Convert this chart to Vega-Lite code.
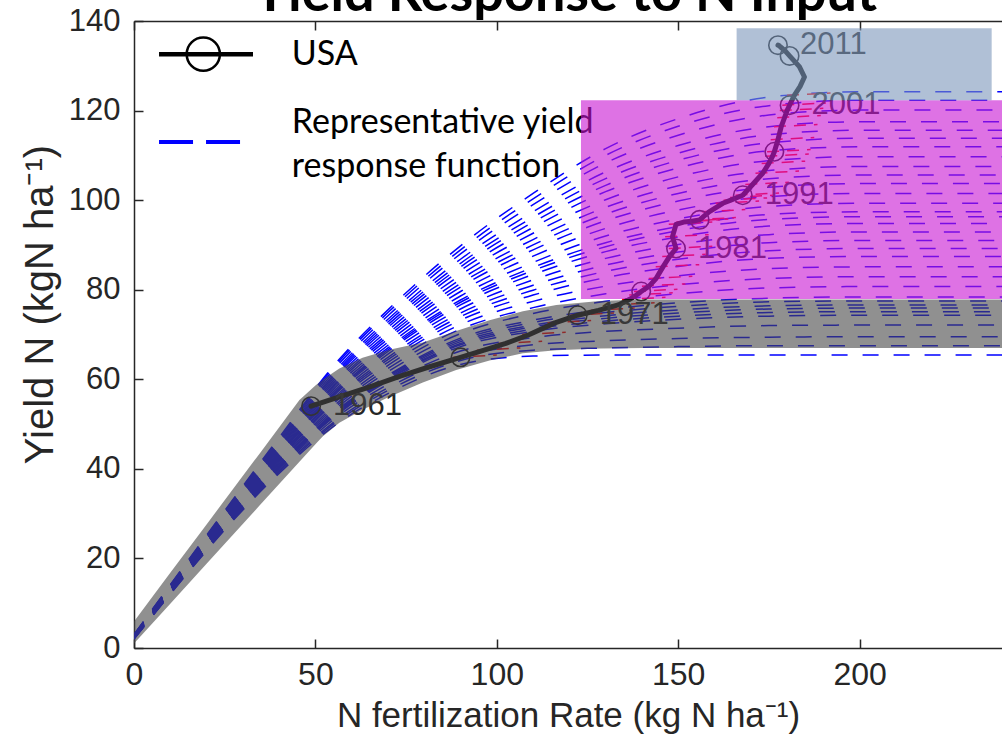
{
  "$schema": "https://vega.github.io/schema/vega-lite/v6.json",
  "width": 868,
  "height": 627,
  "autosize": "none",
  "padding": {"left": 134, "top": 21, "right": 0, "bottom": 86},
  "background": "white",
  "config": {"view": {"stroke": null}},
  "datasets": {
    "curves": [
      {"c": 1, "x": [0,40,55,70,90,110,130,150,175,200,245], "y": [2.0,39.0,49.5,56.8,63.3,65.2,65.4,65.4,65.4,65.4,65.4]},
      {"c": 2, "x": [0,40,55,70,90,110,130,150,175,200,245], "y": [2.0,39.3,50.0,57.5,64.2,66.5,67.0,67.3,67.5,67.5,67.5]},
      {"c": 3, "x": [0,40,55,70,90,110,130,150,175,200,245], "y": [2.1,39.6,50.4,58.1,65.1,67.7,68.6,69.1,69.4,69.5,69.5]},
      {"c": 4, "x": [0,40,55,70,90,110,130,150,175,200,245], "y": [2.1,39.9,51.0,58.9,66.3,69.3,70.7,71.4,72.0,72.1,72.1]},
      {"c": 5, "x": [0,40,55,70,90,110,130,150,175,200,245], "y": [2.2,40.2,51.5,59.6,67.3,70.7,72.4,73.4,74.1,74.3,74.3]},
      {"c": 6, "x": [0,40,55,70,90,110,130,150,175,200,245], "y": [2.2,40.3,51.7,59.9,67.7,71.2,73.0,74.1,74.9,75.1,75.1]},
      {"c": 7, "x": [0,40,55,70,90,110,130,150,175,200,245], "y": [2.2,40.4,51.9,60.1,68.0,71.7,73.6,74.8,75.7,75.9,75.9]},
      {"c": 8, "x": [0,40,55,70,90,110,130,150,175,200,245], "y": [2.2,40.5,52.1,60.4,68.4,72.1,74.2,75.5,76.4,76.6,76.6]},
      {"c": 9, "x": [0,40,55,70,90,110,130,150,175,200,245], "y": [2.2,40.6,52.3,60.7,68.8,72.7,74.9,76.3,77.3,77.5,77.5]},
      {"c": 10, "x": [0,40,55,70,90,110,130,150,175,200,245], "y": [2.2,40.8,52.5,60.9,69.2,73.2,75.6,77.1,78.1,78.4,78.4]},
      {"c": 11, "x": [0,40,55,70,90,110,130,150,175,200,245], "y": [2.3,41.1,53.0,61.7,70.2,74.7,77.4,79.1,80.4,80.7,80.7]},
      {"c": 12, "x": [0,40,55,70,90,110,130,150,175,200,245], "y": [2.3,41.4,53.5,62.4,71.2,76.0,79.1,81.1,82.5,82.9,82.9]},
      {"c": 13, "x": [0,40,55,70,90,110,130,150,175,200,245], "y": [2.3,41.7,54.0,63.1,72.2,77.4,80.8,83.1,84.7,85.1,85.1]},
      {"c": 14, "x": [0,40,55,70,90,110,130,150,175,200,245], "y": [2.4,42.0,54.6,63.8,73.2,78.8,82.7,85.2,87.0,87.4,87.4]},
      {"c": 15, "x": [0,40,55,70,90,110,130,150,175,200,245], "y": [2.4,42.2,55.0,64.4,74.0,79.9,84.1,86.8,88.7,89.2,89.2]},
      {"c": 16, "x": [0,40,55,70,90,110,130,150,175,200,245], "y": [2.4,42.5,55.4,64.9,74.8,81.0,85.5,88.4,90.5,91.0,91.0]},
      {"c": 17, "x": [0,40,55,70,90,110,130,150,175,200,245], "y": [2.5,42.7,55.8,65.6,75.7,82.2,87.0,90.1,92.3,92.9,92.9]},
      {"c": 18, "x": [0,40,55,70,90,110,130,150,175,200,245], "y": [2.5,43.0,56.3,66.2,76.6,83.4,88.5,91.8,94.2,94.8,94.8]},
      {"c": 19, "x": [0,40,55,70,90,110,130,150,175,200,245], "y": [2.5,43.2,56.6,66.6,77.2,84.3,89.6,93.2,95.7,96.3,96.3]},
      {"c": 20, "x": [0,40,55,70,90,110,130,150,175,200,245], "y": [2.5,43.4,56.9,67.0,77.7,85.0,90.5,94.1,96.8,97.4,97.4]},
      {"c": 21, "x": [0,40,55,70,90,110,130,150,175,200,245], "y": [2.6,43.6,57.3,67.6,78.6,86.1,92.0,95.8,98.6,99.3,99.3]},
      {"c": 22, "x": [0,40,55,70,90,110,130,150,175,200,245], "y": [2.6,43.9,57.8,68.3,79.6,87.5,93.7,97.8,100.8,101.5,101.5]},
      {"c": 23, "x": [0,40,55,70,90,110,130,150,175,200,245], "y": [2.7,44.2,58.3,69.0,80.6,88.9,95.4,99.8,102.9,103.7,103.7]},
      {"c": 24, "x": [0,40,55,70,90,110,130,150,175,200,245], "y": [2.7,44.5,58.7,69.6,81.4,90.0,96.9,101.5,104.8,105.6,105.6]},
      {"c": 25, "x": [0,40,55,70,90,110,130,150,175,200,245], "y": [2.7,44.7,59.2,70.2,82.3,91.2,98.4,103.2,106.6,107.5,107.5]},
      {"c": 26, "x": [0,40,55,70,90,110,130,150,175,200,245], "y": [2.8,45.0,59.7,70.9,83.3,92.6,100.1,105.2,108.8,109.7,109.7]},
      {"c": 27, "x": [0,40,55,70,90,110,130,150,175,200,245], "y": [2.8,45.3,60.2,71.6,84.3,93.9,101.9,107.2,111.0,111.9,111.9]},
      {"c": 28, "x": [0,40,55,70,90,110,130,150,175,200,245], "y": [2.8,45.6,60.6,72.2,85.1,95.1,103.3,108.9,112.8,113.8,113.8]},
      {"c": 29, "x": [0,40,55,70,90,110,130,150,175,200,245], "y": [2.9,45.8,61.0,72.8,85.9,96.2,104.8,110.5,114.6,115.6,115.6]},
      {"c": 30, "x": [0,40,55,70,90,110,130,150,175,200,245], "y": [2.9,46.1,61.5,73.4,86.8,97.4,106.3,112.2,116.4,117.5,117.5]},
      {"c": 31, "x": [0,40,55,70,90,110,130,150,175,200,245], "y": [2.9,46.4,62.1,74.2,88.0,99.0,108.3,114.5,119.0,120.1,120.1]},
      {"c": 32, "x": [0,40,55,70,90,110,130,150,175,200,245], "y": [3.0,46.7,62.6,74.9,88.9,100.3,110.0,116.5,121.1,122.3,122.3]},
      {"c": 33, "x": [0,40,55,70,90,110,130,150,175,200,245], "y": [3.0,47.0,63.0,75.5,89.8,101.5,111.5,118.2,123.0,124.2,124.2]}
    ],
    "traj": [
      {"yr": 1961, "x": 48.8, "y": 54.0}, {"yr": 1962, "x": 57.0, "y": 56.2}, {"yr": 1963, "x": 65.0, "y": 58.3},
      {"yr": 1964, "x": 73.0, "y": 60.6}, {"yr": 1965, "x": 81.5, "y": 62.8}, {"yr": 1966, "x": 90.0, "y": 64.9},
      {"yr": 1967, "x": 96.5, "y": 66.5}, {"yr": 1968, "x": 102.5, "y": 68.0}, {"yr": 1969, "x": 109.0, "y": 70.0},
      {"yr": 1970, "x": 116.0, "y": 72.6}, {"yr": 1971, "x": 122.3, "y": 74.3}, {"yr": 1972, "x": 128.0, "y": 75.4},
      {"yr": 1973, "x": 133.5, "y": 76.6}, {"yr": 1974, "x": 136.5, "y": 77.8}, {"yr": 1975, "x": 138.5, "y": 78.8},
      {"yr": 1976, "x": 139.8, "y": 79.6}, {"yr": 1977, "x": 142.0, "y": 80.8}, {"yr": 1978, "x": 143.9, "y": 82.5},
      {"yr": 1979, "x": 145.8, "y": 85.1}, {"yr": 1980, "x": 147.6, "y": 87.4}, {"yr": 1981, "x": 149.4, "y": 89.2},
      {"yr": 1982, "x": 148.4, "y": 91.8}, {"yr": 1983, "x": 149.4, "y": 94.6}, {"yr": 1984, "x": 151.5, "y": 95.1},
      {"yr": 1985, "x": 153.8, "y": 95.3}, {"yr": 1986, "x": 155.9, "y": 95.6}, {"yr": 1987, "x": 158.5, "y": 97.4},
      {"yr": 1988, "x": 162.3, "y": 99.3}, {"yr": 1989, "x": 164.5, "y": 100.0}, {"yr": 1990, "x": 166.3, "y": 100.6},
      {"yr": 1991, "x": 167.8, "y": 101.1}, {"yr": 1992, "x": 170.5, "y": 103.5}, {"yr": 1993, "x": 173.3, "y": 106.0},
      {"yr": 1994, "x": 175.0, "y": 108.2}, {"yr": 1995, "x": 176.0, "y": 109.8}, {"yr": 1996, "x": 176.5, "y": 110.8},
      {"yr": 1997, "x": 177.5, "y": 113.5}, {"yr": 1998, "x": 178.4, "y": 116.4}, {"yr": 1999, "x": 179.3, "y": 118.4},
      {"yr": 2000, "x": 180.0, "y": 120.0}, {"yr": 2001, "x": 180.7, "y": 121.2}, {"yr": 2002, "x": 182.0, "y": 123.4},
      {"yr": 2003, "x": 183.6, "y": 125.4}, {"yr": 2004, "x": 184.8, "y": 127.5}, {"yr": 2005, "x": 183.4, "y": 129.8},
      {"yr": 2006, "x": 180.7, "y": 132.2}, {"yr": 2007, "x": 179.6, "y": 133.2}, {"yr": 2008, "x": 178.8, "y": 133.8},
      {"yr": 2009, "x": 178.2, "y": 134.2}, {"yr": 2010, "x": 177.8, "y": 134.5}, {"yr": 2011, "x": 177.5, "y": 134.6}
    ],
    "red": [
      {"yr": 1966, "x1": 88.0, "x2": 100.0, "y1": 64.9, "y2": 65.4},
      {"yr": 1967, "x1": 94.5, "x2": 106.5, "y1": 66.5, "y2": 67.0},
      {"yr": 1968, "x1": 100.5, "x2": 112.5, "y1": 68.0, "y2": 68.5},
      {"yr": 1969, "x1": 107.0, "x2": 119.0, "y1": 70.0, "y2": 70.5},
      {"yr": 1970, "x1": 114.0, "x2": 126.0, "y1": 72.6, "y2": 73.1},
      {"yr": 1971, "x1": 120.3, "x2": 132.3, "y1": 74.3, "y2": 74.8},
      {"yr": 1972, "x1": 126.0, "x2": 138.0, "y1": 75.4, "y2": 75.9},
      {"yr": 1973, "x1": 131.5, "x2": 143.5, "y1": 76.6, "y2": 77.1},
      {"yr": 1974, "x1": 134.5, "x2": 146.5, "y1": 77.8, "y2": 78.3},
      {"yr": 1975, "x1": 136.5, "x2": 148.5, "y1": 78.8, "y2": 79.3},
      {"yr": 1976, "x1": 137.8, "x2": 149.8, "y1": 79.6, "y2": 80.1},
      {"yr": 1977, "x1": 140.0, "x2": 152.0, "y1": 80.8, "y2": 81.3},
      {"yr": 1978, "x1": 141.9, "x2": 153.9, "y1": 82.5, "y2": 83.0},
      {"yr": 1979, "x1": 143.8, "x2": 155.8, "y1": 85.1, "y2": 85.6},
      {"yr": 1980, "x1": 145.6, "x2": 157.6, "y1": 87.4, "y2": 87.9},
      {"yr": 1981, "x1": 147.4, "x2": 159.4, "y1": 89.2, "y2": 89.7},
      {"yr": 1982, "x1": 146.4, "x2": 158.4, "y1": 91.8, "y2": 92.3},
      {"yr": 1983, "x1": 147.4, "x2": 159.4, "y1": 94.6, "y2": 95.1},
      {"yr": 1984, "x1": 149.5, "x2": 161.5, "y1": 95.1, "y2": 95.6},
      {"yr": 1985, "x1": 151.8, "x2": 163.8, "y1": 95.3, "y2": 95.8},
      {"yr": 1986, "x1": 153.9, "x2": 165.9, "y1": 95.6, "y2": 96.1},
      {"yr": 1987, "x1": 156.5, "x2": 168.5, "y1": 97.4, "y2": 97.9},
      {"yr": 1988, "x1": 160.3, "x2": 172.3, "y1": 99.3, "y2": 99.8},
      {"yr": 1989, "x1": 162.5, "x2": 174.5, "y1": 100.0, "y2": 100.5},
      {"yr": 1990, "x1": 164.3, "x2": 176.3, "y1": 100.6, "y2": 101.1},
      {"yr": 1991, "x1": 165.8, "x2": 177.8, "y1": 101.1, "y2": 101.6},
      {"yr": 1992, "x1": 168.5, "x2": 180.5, "y1": 103.5, "y2": 104.0},
      {"yr": 1993, "x1": 171.3, "x2": 183.3, "y1": 106.0, "y2": 106.5},
      {"yr": 1994, "x1": 173.0, "x2": 185.0, "y1": 108.2, "y2": 108.7},
      {"yr": 1995, "x1": 174.0, "x2": 186.0, "y1": 109.8, "y2": 110.3},
      {"yr": 1996, "x1": 174.5, "x2": 186.5, "y1": 110.8, "y2": 111.3},
      {"yr": 1997, "x1": 175.5, "x2": 187.5, "y1": 113.5, "y2": 114.0},
      {"yr": 1998, "x1": 176.4, "x2": 188.4, "y1": 116.4, "y2": 116.9},
      {"yr": 1999, "x1": 177.3, "x2": 189.3, "y1": 118.4, "y2": 118.9},
      {"yr": 2000, "x1": 178.0, "x2": 190.0, "y1": 120.0, "y2": 120.5},
      {"yr": 2001, "x1": 178.7, "x2": 190.7, "y1": 121.2, "y2": 121.7},
      {"yr": 2002, "x1": 180.0, "x2": 192.0, "y1": 123.4, "y2": 123.9}
    ],
    "band": [
      {"x": 0, "lo": 1.0, "hi": 5.9}, {"x": 10, "lo": 9.9, "hi": 16.8}, {"x": 20, "lo": 18.8, "hi": 27.6},
      {"x": 34.6, "lo": 31.8, "hi": 43.4}, {"x": 45.6, "lo": 41.6, "hi": 55.4}, {"x": 50, "lo": 45.5, "hi": 58.6},
      {"x": 52, "lo": 47.2, "hi": 59.9}, {"x": 56.6, "lo": 50.3, "hi": 62.4}, {"x": 63, "lo": 53.2, "hi": 64.8},
      {"x": 70.4, "lo": 56.1, "hi": 66.6}, {"x": 79.6, "lo": 59.3, "hi": 68.2}, {"x": 88.8, "lo": 62.1, "hi": 70.8},
      {"x": 98, "lo": 64.2, "hi": 73.2}, {"x": 107.2, "lo": 65.8, "hi": 75.2}, {"x": 116.4, "lo": 66.5, "hi": 76.6},
      {"x": 128.3, "lo": 66.9, "hi": 77.5}, {"x": 140, "lo": 67.0, "hi": 77.8}, {"x": 245, "lo": 67.0, "hi": 77.8}
    ],
    "boxes": [
      {"k": "magenta", "x1": 123.2, "x2": 245, "y1": 77.9, "y2": 122.3},
      {"k": "steel", "x1": 166.1, "x2": 236.4, "y1": 122.3, "y2": 138.4}
    ],
    "legLines": [
      {"k": "usa", "x1": 6.9, "x2": 32.8, "y": 132.6},
      {"k": "resp", "x1": 6.9, "x2": 32.8, "y": 113.0}
    ],
    "legCircle": [{"x": 19.1, "y": 132.6}],
    "legText": [
      {"t": "USA", "x": 43.5, "y": 132.4},
      {"t": "Representative yield", "x": 43.5, "y": 117.2},
      {"t": "response function", "x": 43.5, "y": 107.5}
    ],
    "title": [{"t": "Yield Response to N Input", "x": 118.8, "y": 142.2}]
  },
  "resolve": {"axis": {"x": "independent", "y": "independent"}},
  "layer": [
    {
      "data": {"name": "curves"},
      "transform": [{"flatten": ["x", "y"]}],
      "mark": {"type": "line", "clip": true, "color": "#0000ff", "strokeWidth": 1.5, "strokeDash": [16, 15], "interpolate": "monotone"},
      "encoding": {
        "x": {"field": "x", "type": "quantitative", "scale": {"domain": [0, 239.25], "nice": false, "zero": false},
          "axis": {"orient": "bottom", "values": [0, 50, 100, 150, 200], "tickSize": -9, "tickWidth": 1.5, "tickColor": "#262626",
            "domainColor": "#262626", "domainWidth": 1.5, "grid": false, "labelFont": "Liberation Sans", "labelFontSize": 32,
            "labelColor": "#262626", "labelPadding": 20, "labelFlush": false, "labelOverlap": false,
            "title": "N fertilization Rate (kg N ha⁻¹)", "titleFont": "Liberation Sans", "titleFontSize": 35,
            "titleFontWeight": "normal", "titleColor": "#262626", "titlePadding": 8}},
        "y": {"field": "y", "type": "quantitative", "scale": {"domain": [0, 140], "nice": false, "zero": false},
          "axis": {"orient": "left", "values": [0, 20, 40, 60, 80, 100, 120, 140], "tickSize": -9, "tickWidth": 1.5, "tickColor": "#262626",
            "domainColor": "#262626", "domainWidth": 1.5, "grid": false, "labelFont": "Liberation Sans", "labelFontSize": 31,
            "labelColor": "#262626", "labelPadding": 23, "labelFlush": false, "labelOverlap": false,
            "title": "Yield N (kgN ha⁻¹)", "titleFont": "Liberation Sans", "titleFontSize": 40,
            "titleFontWeight": "normal", "titleColor": "#262626", "titlePadding": 8, "titleY": 283}},
        "detail": {"field": "c", "type": "nominal"}
      }
    },
    {
      "data": {"name": "red"},
      "mark": {"type": "rule", "clip": true, "color": "#ff0000", "strokeWidth": 1.5, "strokeDash": [12, 8]},
      "encoding": {
        "x": {"field": "x1", "type": "quantitative",
          "axis": {"orient": "top", "values": [0, 50, 100, 150, 200], "tickSize": -9, "tickWidth": 1.5, "tickColor": "#262626",
            "domainColor": "#262626", "domainWidth": 1.5, "grid": false, "labels": false, "title": null}},
        "x2": {"field": "x2"},
        "y": {"field": "y1", "type": "quantitative", "axis": null},
        "y2": {"field": "y2"}
      }
    },
    {
      "data": {"name": "traj"},
      "mark": {"type": "line", "clip": true, "color": "#111111", "strokeWidth": 5, "strokeJoin": "round", "strokeCap": "round"},
      "encoding": {
        "x": {"field": "x", "type": "quantitative", "axis": null},
        "y": {"field": "y", "type": "quantitative", "axis": null},
        "order": {"field": "yr", "type": "quantitative"}
      }
    },
    {
      "data": {"name": "traj"},
      "transform": [{"filter": "datum.yr % 5 == 1"}],
      "mark": {"type": "point", "shape": "circle", "filled": false, "color": "#1a1a1a", "strokeWidth": 1.6, "size": 340, "opacity": 1},
      "encoding": {
        "x": {"field": "x", "type": "quantitative", "axis": null},
        "y": {"field": "y", "type": "quantitative", "axis": null}
      }
    },
    {
      "data": {"name": "traj"},
      "transform": [{"filter": "datum.yr % 10 == 1"}],
      "mark": {"type": "text", "align": "left", "baseline": "middle", "dx": 22, "font": "Liberation Sans", "fontSize": 31, "color": "#262626"},
      "encoding": {
        "x": {"field": "x", "type": "quantitative", "axis": null},
        "y": {"field": "y", "type": "quantitative", "axis": null},
        "text": {"field": "yr", "type": "nominal"}
      }
    },
    {
      "data": {"name": "legLines"},
      "transform": [{"filter": "datum.k == 'usa'"}],
      "mark": {"type": "rule", "color": "#000000", "strokeWidth": 4.5},
      "encoding": {
        "x": {"field": "x1", "type": "quantitative", "axis": null},
        "x2": {"field": "x2"},
        "y": {"field": "y", "type": "quantitative", "axis": null}
      }
    },
    {
      "data": {"name": "legLines"},
      "transform": [{"filter": "datum.k == 'resp'"}],
      "mark": {"type": "rule", "color": "#0000ff", "strokeWidth": 4, "strokeDash": [34, 13]},
      "encoding": {
        "x": {"field": "x1", "type": "quantitative", "axis": null},
        "x2": {"field": "x2"},
        "y": {"field": "y", "type": "quantitative", "axis": null}
      }
    },
    {
      "data": {"name": "legCircle"},
      "mark": {"type": "point", "shape": "circle", "filled": false, "stroke": "#000000", "strokeWidth": 2.5, "size": 1100, "opacity": 1},
      "encoding": {
        "x": {"field": "x", "type": "quantitative", "axis": null},
        "y": {"field": "y", "type": "quantitative", "axis": null}
      }
    },
    {
      "data": {"name": "legText"},
      "mark": {"type": "text", "align": "left", "baseline": "middle", "font": "Lato", "fontSize": 34, "color": "#000000"},
      "encoding": {
        "x": {"field": "x", "type": "quantitative", "axis": null},
        "y": {"field": "y", "type": "quantitative", "axis": null},
        "text": {"field": "t", "type": "nominal"}
      }
    },
    {
      "data": {"name": "band"},
      "mark": {"type": "area", "clip": true, "color": "#464646", "opacity": 0.6, "interpolate": "linear"},
      "encoding": {
        "x": {"field": "x", "type": "quantitative", "axis": null},
        "y": {"field": "lo", "type": "quantitative", "axis": null},
        "y2": {"field": "hi"}
      }
    },
    {
      "data": {"name": "boxes"},
      "transform": [{"filter": "datum.k == 'magenta'"}],
      "mark": {"type": "rect", "clip": true, "color": "#c814d2", "opacity": 0.6},
      "encoding": {
        "x": {"field": "x1", "type": "quantitative", "axis": null},
        "x2": {"field": "x2"},
        "y": {"field": "y1", "type": "quantitative", "axis": null},
        "y2": {"field": "y2"}
      }
    },
    {
      "data": {"name": "boxes"},
      "transform": [{"filter": "datum.k == 'steel'"}],
      "mark": {"type": "rect", "clip": true, "color": "#7b96bb", "opacity": 0.6},
      "encoding": {
        "x": {"field": "x1", "type": "quantitative", "axis": null},
        "x2": {"field": "x2"},
        "y": {"field": "y1", "type": "quantitative", "axis": null},
        "y2": {"field": "y2"}
      }
    },
    {
      "data": {"name": "title"},
      "mark": {"type": "text", "align": "center", "baseline": "alphabetic", "font": "Lato", "fontWeight": "bold", "fontSize": 54, "color": "#000000"},
      "encoding": {
        "x": {"field": "x", "type": "quantitative", "axis": null},
        "y": {"field": "y", "type": "quantitative", "axis": null},
        "text": {"field": "t", "type": "nominal"}
      }
    }
  ]
}
